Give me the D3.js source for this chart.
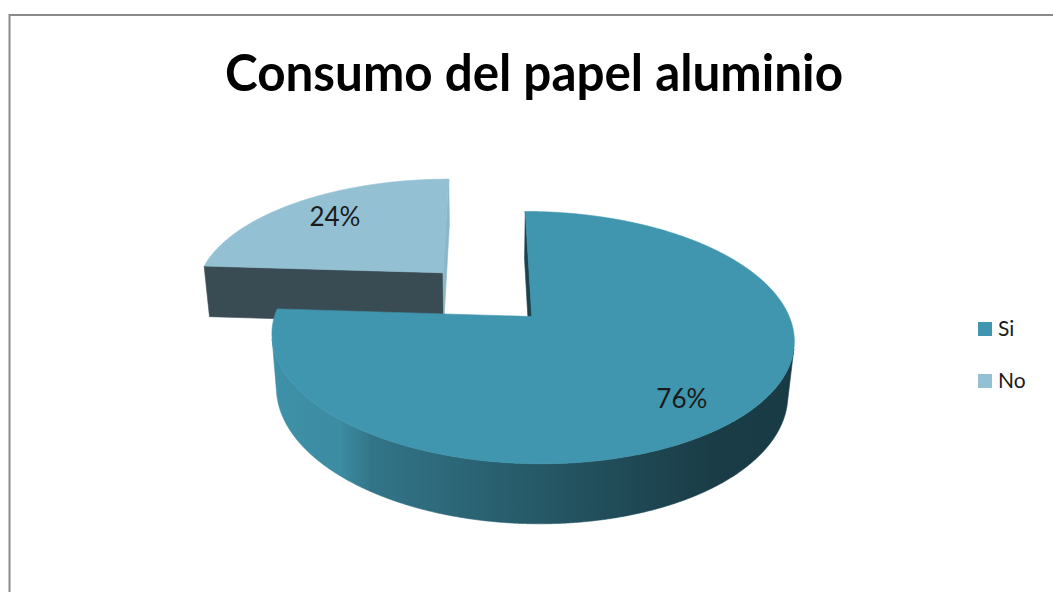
<!DOCTYPE html>
<html>
<head>
<meta charset="utf-8">
<script src="https://cdn.jsdelivr.net/npm/d3@7"></script>
<style>
  html, body { margin: 0; padding: 0; background: #ffffff; }
  svg { display: block; }
</style>
</head>
<body>
<script>
// ---- data ----
const categories = ["Si", "No"];
const values = [76, 24];
const valueLabels = ["76%", "24%"];
const chartTitle = "Consumo del papel aluminio";

// ---- canvas ----
const W = 1053, H = 592;
const svg = d3.select("body").append("svg")
  .attr("width", W).attr("height", H)
  .attr("viewBox", `0 0 ${W} ${H}`);
const defs = svg.append("defs");

// chart frame (top and left edges visible)
svg.append("path")
  .attr("d", `M9.5,${H} V15 H${W}`)
  .attr("fill", "none")
  .attr("stroke", "#8a8a8a")
  .attr("stroke-width", 2);

// title
svg.append("text")
  .attr("x", 534).attr("y", 91)
  .attr("text-anchor", "middle")
  .attr("font-family", "Lato, 'Open Sans', sans-serif")
  .attr("font-weight", 700)
  .attr("font-size", 51)
  .attr("fill", "#000")
  .attr("textLength", 618)
  .attr("lengthAdjust", "spacingAndGlyphs")
  .text(chartTitle);

// ---- 3D perspective camera ----
const cam = { x0: 486, y0: 294, f: 1366, dist: 5.475, tilt: Math.asin(0.4618) };
const sinT = Math.sin(cam.tilt), cosT = Math.cos(cam.tilt);
const camPos = [0, cam.dist * sinT, cam.dist * cosT];

// world: X right, Y up, Z toward viewer; pie lies in the Y=0 plane
function project(p) {
  const [X, Y, Z] = p;
  const d = cam.dist - Y * sinT - Z * cosT;
  const yc = Y * cosT - Z * sinT;
  return [cam.x0 + cam.f * X / d, cam.y0 - cam.f * yc / d];
}

const R = 1, thick = 0.24, explode = 0.26;

const color = d3.scaleOrdinal().domain(categories).range(["#4096AE", "#93C1D3"]);
const arcs = d3.pie().sort(null).value(d => d)(values)
  .map((a, i) => {
    const mid = (a.startAngle + a.endAngle) / 2;
    return Object.assign(a, {
      key: categories[i],
      label: valueLabels[i],
      mid,
      cx: explode * Math.sin(mid),
      cz: -explode * Math.cos(mid)
    });
  });

const line = d3.line();
const step = Math.PI / 720;

function facing(p, n) {
  const v = [camPos[0] - p[0], camPos[1] - p[1], camPos[2] - p[2]];
  return v[0] * n[0] + v[1] * n[1] + v[2] * n[2] > 0;
}

// side wall shading: [offset, darkening]
const sideShade = [[0, 0.1], [0.13, 0.2], [0.19, 0.7], [0.45, 1.3], [0.7, 2.05], [0.85, 2.55], [1, 2.6]];

const g = svg.append("g");

// far slice first, near slice last
const order = arcs.slice().sort((a, b) => a.cz - b.cz);

order.forEach((a, idx) => {
  const base = color(a.key);
  const pt = (th, r, Y) => [a.cx + r * Math.sin(th), Y, a.cz - r * Math.cos(th)];
  const n = Math.max(2, Math.ceil((a.endAngle - a.startAngle) / step));
  const thetas = d3.range(n + 1).map(k => a.startAngle + (a.endAngle - a.startAngle) * k / n);

  // outer curved wall: visible runs only
  const runs = [];
  let cur = null;
  thetas.forEach(th => {
    const p = pt(th, R, -thick / 2);
    const nrm = [Math.sin(th), 0, -Math.cos(th)];
    if (facing(p, nrm)) { if (!cur) { cur = []; runs.push(cur); } cur.push(th); }
    else cur = null;
  });
  runs.forEach((run, ri) => {
    const top = run.map(th => project(pt(th, R, 0)));
    const bot = run.map(th => project(pt(th, R, -thick))).reverse();
    const poly = top.concat(bot);
    const [xmin, xmax] = d3.extent(poly, p => p[0]);
    const gid = `side-${idx}-${ri}`;
    const grad = defs.append("linearGradient").attr("id", gid)
      .attr("gradientUnits", "userSpaceOnUse")
      .attr("x1", xmin).attr("x2", xmax).attr("y1", 0).attr("y2", 0);
    sideShade.forEach(([o, k]) => grad.append("stop")
      .attr("offset", o).attr("stop-color", d3.color(base).darker(k).formatHex()));
    g.append("path").attr("d", line(poly) + "Z")
      .attr("fill", `url(#${gid})`)
      .attr("stroke", `url(#${gid})`).attr("stroke-width", 0.6);
  });

  // radial cut faces
  [[a.startAngle, -1], [a.endAngle, 1]].forEach(([th, s]) => {
    const nrm = [s * Math.cos(th), 0, s * Math.sin(th)];
    const midP = pt(th, R / 2, -thick / 2);
    if (!facing(midP, nrm)) return;
    const quad = [pt(th, 0, 0), pt(th, R, 0), pt(th, R, -thick), pt(th, 0, -thick)].map(project);
    const fill = d3.color(base).darker(nrm[0] > 0.5 ? 0.15 : (nrm[2] > 0.5 ? 2.6 : 2.3)).formatHex();
    g.append("path").attr("d", line(quad) + "Z")
      .attr("fill", fill).attr("stroke", fill).attr("stroke-width", 0.6);
  });

  // top face
  const topPoly = [project(pt(0, 0, 0))].concat(thetas.map(th => project(pt(th, R, 0))));
  g.append("path").attr("d", line(topPoly) + "Z")
    .attr("fill", base).attr("stroke", base).attr("stroke-width", 0.6);
});

// value labels on the top faces
const labelShift = { Si: [0, 8], No: [3, -2] };
arcs.forEach(a => {
  const [x, y] = project([a.cx + 0.75 * Math.sin(a.mid), 0, a.cz - 0.75 * Math.cos(a.mid)]);
  const [dx, dy] = labelShift[a.key];
  svg.append("text")
    .attr("x", x + dx).attr("y", y + dy)
    .attr("dy", "0.36em")
    .attr("text-anchor", "middle")
    .attr("font-family", "Lato, 'Open Sans', sans-serif")
    .attr("font-size", 26)
    .attr("fill", "#1a1a1a")
    .text(a.label);
});

// legend
const legend = svg.append("g").attr("transform", "translate(978,322)");
categories.forEach((c, i) => {
  const row = legend.append("g").attr("transform", `translate(0,${i * 52})`);
  row.append("rect").attr("width", 14).attr("height", 14).attr("fill", color(c));
  row.append("text")
    .attr("x", 20).attr("y", 14)
    .attr("font-family", "Lato, 'Open Sans', sans-serif")
    .attr("font-size", 21)
    .attr("fill", "#1a1a1a")
    .text(c);
});
</script>
</body>
</html>
